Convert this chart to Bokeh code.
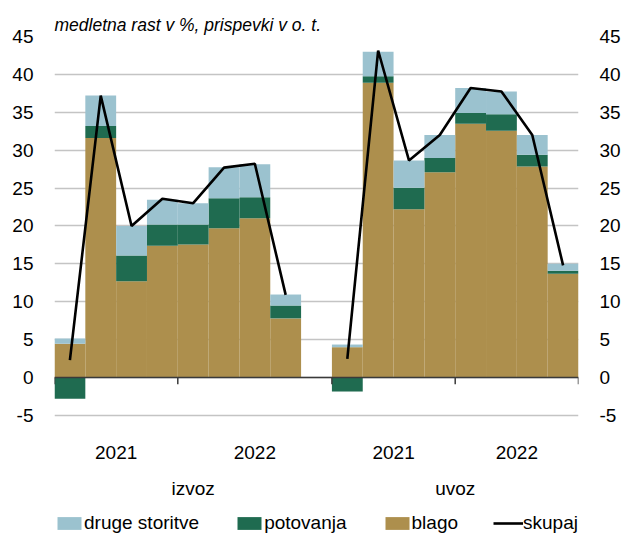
import numpy as np
from bokeh.plotting import figure
from bokeh.models import (ColumnDataSource, Range1d, LinearAxis, FixedTicker, Span,
                          Legend, LegendItem, Grid)
from bokeh.core.properties import value
from bokeh.embed import file_html
from bokeh.resources import INLINE

# ---------------- data ----------------
groups = ["izvoz", "uvoz"]
years = ["2021", "2022"]
quarters = ["Q1", "Q2", "Q3", "Q4"]
series_names = ["blago", "potovanja", "druge storitve"]  # bottom -> top

izvoz_blago = [4.45, 31.6, 12.7, 17.4, 17.55, 19.7, 21.0, 7.8]
izvoz_potovanja = [-2.8, 1.6, 3.4, 2.8, 2.65, 3.95, 2.8, 1.7]
izvoz_druge = [0.7, 4.0, 3.9, 3.25, 2.8, 4.1, 4.35, 1.45]
izvoz_skupaj = [2.3, 37.2, 20.0, 23.6, 23.0, 27.7, 28.2, 10.9]

uvoz_blago = [4.0, 38.9, 22.2, 27.1, 33.5, 32.55, 27.85, 13.7]
uvoz_potovanja = [-1.85, 0.85, 2.85, 1.85, 1.4, 2.2, 1.55, 0.4]
uvoz_druge = [0.35, 3.25, 3.6, 3.05, 3.3, 3.0, 2.6, 0.9]
uvoz_skupaj = [2.45, 43.15, 28.65, 32.0, 38.2, 37.75, 32.0, 14.8]

y_ticks = [-5, 0, 5, 10, 15, 20, 25, 30, 35, 40, 45]
title_text = "medletna rast v %, prispevki v o. t."

colors = {"druge storitve": "#9BC2CF", "potovanja": "#1F6B50", "blago": "#AD8F4D"}
FONT = "Liberation Sans"

# --------------- layout of categories ---------------
data = {
    "izvoz": {"blago": izvoz_blago, "potovanja": izvoz_potovanja,
              "druge storitve": izvoz_druge, "skupaj": izvoz_skupaj},
    "uvoz": {"blago": uvoz_blago, "potovanja": uvoz_potovanja,
             "druge storitve": uvoz_druge, "skupaj": uvoz_skupaj},
}
n_per_group = len(years) * len(quarters)
slot_step = n_per_group + 1  # one empty slot between groups
n_slots = slot_step * len(groups) - 1

xs, line_y = [], [np.nan] * n_slots
stacks = {s: {"bottom": [], "top": []} for s in series_names}
for gi, g in enumerate(groups):
    for i in range(n_per_group):
        slot = gi * slot_step + i
        xs.append(slot + 0.5)
        line_y[slot] = data[g]["skupaj"][i]
        pos, neg = 0.0, 0.0
        for s in series_names:
            v = data[g][s][i]
            if v >= 0:
                stacks[s]["bottom"].append(pos); stacks[s]["top"].append(pos + v); pos += v
            else:
                stacks[s]["top"].append(neg); stacks[s]["bottom"].append(neg + v); neg += v

line_x = [k + 0.5 for k in range(n_slots)]

# boundaries and label positions
bounds, year_centers, year_labels, group_centers = [], [], [], []
for gi, g in enumerate(groups):
    start = gi * slot_step
    end = min(start + slot_step, n_slots)
    edges = [start + len(quarters) * k for k in range(len(years))] + [end]
    for k, y in enumerate(years):
        year_centers.append((edges[k] + edges[k + 1]) / 2)
        year_labels.append(y)
    bounds.extend(edges[:-1])
    group_centers.append((start + end) / 2)
bounds.append(n_slots)

# --------------- figure ---------------
W, H = 623, 534
BL, BR, BT = 54, 44, 36
frame_h = H - BT
px_per_unit = 341.0 / (y_ticks[-1] - 0)          # 45 units over 341 px
y_start = y_ticks[-1] - frame_h / px_per_unit      # frame extends below -5 for labels

p = figure(width=W, height=H,
           x_range=Range1d(0, n_slots), y_range=Range1d(y_start, y_ticks[-1]),
           x_axis_type=None, y_axis_type=None,
           output_backend="svg", toolbar_location=None,
           min_border_left=BL, min_border_right=BR, min_border_top=BT, min_border_bottom=0,
           outline_line_color=None, background_fill_color="white")

p.title.text = title_text
p.title.text_font = FONT
p.title.text_font_style = "italic"
p.title.text_font_size = "17.5px"
p.title.text_color = "black"
p.title.align = "left"
p.title.standoff = 3
p.title.offset = 0

p.add_layout(Grid(dimension=1, ticker=FixedTicker(ticks=y_ticks),
                  grid_line_color="#C4C4C4", grid_line_width=1.3))

renderers = {}
for s in series_names:
    src = ColumnDataSource(dict(x=xs, top=stacks[s]["top"], bottom=stacks[s]["bottom"]))
    renderers[s] = p.vbar(x="x", top="top", bottom="bottom", width=1.0, source=src,
                          fill_color=colors[s], line_color=None)

p.add_layout(Span(location=0, dimension="width", line_color="#3A3A3A", line_width=1.5))
p.segment(x0=bounds, y0=[0] * len(bounds), x1=bounds, y1=[-0.9] * len(bounds),
          line_color="#3A3A3A", line_width=1.5)

renderers["skupaj"] = p.line(x=line_x, y=line_y, line_color="black", line_width=2.6)

def yaxis(standoff):
    return LinearAxis(ticker=FixedTicker(ticks=y_ticks),
                      major_label_overrides={t: str(t) for t in y_ticks},
                      axis_line_color=None,
                      major_tick_line_color=None, minor_tick_line_color=None,
                      major_tick_in=0, major_tick_out=0, minor_tick_in=0, minor_tick_out=0,
                      major_label_standoff=standoff, major_label_text_font=FONT,
                      major_label_text_font_size="19px", major_label_text_color="black")

p.add_layout(yaxis(21), "left")
p.add_layout(yaxis(21), "right")

# category labels (years, groups) below the -5 line
p.text(x=year_centers, y=[y_ticks[0]] * len(year_centers), text=year_labels,
       y_offset=37, text_align="center", text_baseline="alphabetic",
       text_font=value(FONT), text_font_size="19px", text_color="black")
p.text(x=group_centers, y=[y_ticks[0]] * len(group_centers), text=groups,
       y_offset=73, text_align="center", text_baseline="alphabetic",
       text_font=value(FONT), text_font_size="19px", text_color="black")

legend = Legend(items=[LegendItem(label="druge storitve", renderers=[renderers["druge storitve"]]),
                       LegendItem(label="potovanja", renderers=[renderers["potovanja"]]),
                       LegendItem(label="blago", renderers=[renderers["blago"]]),
                       LegendItem(label="skupaj", renderers=[renderers["skupaj"]])],
                orientation="horizontal", location=(0, 0),
                glyph_width=30, glyph_height=16, label_standoff=0, spacing=35,
                padding=0, margin=0, border_line_color=None, background_fill_alpha=0,
                label_text_font=FONT, label_text_font_size="19px", label_text_color="black")
p.add_layout(legend, "center")

open("out.html", "w").write(file_html(p, INLINE))
